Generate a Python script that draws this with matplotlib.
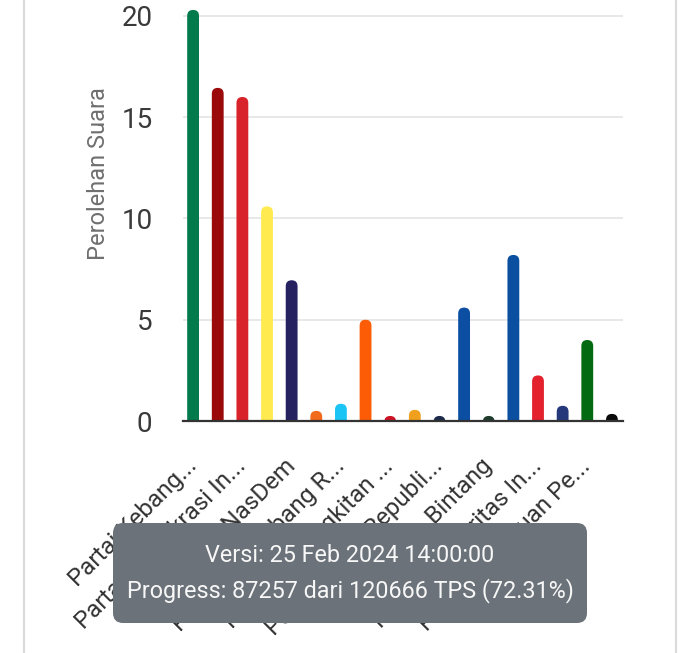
import matplotlib.pyplot as plt
import numpy as np
from matplotlib.lines import Line2D
from matplotlib.patches import FancyBboxPatch

plt.rcParams["font.family"] = ["Roboto", "DejaVu Sans"]

# Perolehan suara per partai (%), urut nomor partai
parties = [
    "Partai Kebang...",
    "Partai Gerakan In...",
    "Partai Demokrasi In...",
    "Partai Golongan Ka...",
    "Partai NasDem",
    "Partai Buruh",
    "Partai Gelombang R...",
    "Partai Keadilan Se...",
    "Partai Kebangkitan ...",
    "Partai Hati Nurani ...",
    "Partai Garda Republi...",
    "Partai Amanat Nasi...",
    "Partai Bulan Bintang",
    "Partai Demokrat",
    "Partai Solidaritas In...",
    "Partai Perindo",
    "Partai Persatuan Pe...",
    "Partai Ummat",
]
votes = [20.3, 16.45, 16.0, 10.6, 6.95, 0.5, 0.85, 5.0, 0.25,
         0.55, 0.25, 5.6, 0.25, 8.2, 2.25, 0.75, 4.0, 0.35]
colors = ["#027a4c", "#9b0a0a", "#d8232a", "#ffeb4f", "#26215f", "#f26a1b",
          "#1ac4f5", "#fc5c05", "#cc1424", "#f0a01c", "#1b2a4a", "#0b4ea2",
          "#1e3b2c", "#0a4fa0", "#e4222e", "#25397a", "#036a12", "#0a0a0a"]
yticks = [0, 5, 10, 15, 20]

version_text = "Versi: 25 Feb 2024 14:00:00"
progress_text = "Progress: 87257 dari 120666 TPS (72.31%)"

W, H = 700, 653
fig = plt.figure(figsize=(W / 100, H / 100), dpi=100)
fig.patch.set_facecolor("white")

ax_px = (183, 421, 440, 421)  # left, bottom-from-top, width, height
ax = fig.add_axes([ax_px[0] / W, 1 - ax_px[1] / H, ax_px[2] / W, ax_px[3] / H])

x = np.arange(len(votes))
xlim = (-0.41, len(votes) - 1 + 0.45)
ylim = (0, 20.79)
ax.set_xlim(*xlim)
ax.set_ylim(*ylim)

# bars with rounded tops
bar_w = 0.48
aspect = ((ylim[1] - ylim[0]) / ax_px[3]) / ((xlim[1] - xlim[0]) / ax_px[2])
for xi, v, c in zip(x, votes, colors):
    bottom = -bar_w * aspect
    ax.add_patch(FancyBboxPatch(
        (xi - bar_w / 2, bottom), bar_w, v - bottom,
        boxstyle=f"round,pad=0,rounding_size={bar_w / 2}",
        mutation_aspect=aspect, facecolor=c, edgecolor="none", zorder=2))

ax.set_yticks(yticks)
ax.yaxis.grid(True, color="#e2e2e2", linewidth=1.1)
ax.set_axisbelow(True)
for side in ["top", "right", "left"]:
    ax.spines[side].set_visible(False)
ax.spines["bottom"].set_color("#333333")
ax.spines["bottom"].set_linewidth(1.6)
ax.spines["bottom"].set_zorder(3)

ax.tick_params(axis="y", length=0, pad=22, labelsize=20, labelcolor="#3a3a3a")
ax.tick_params(axis="x", length=0, pad=30, labelsize=17.5, labelcolor="#333333")
ax.set_xticks(x[::2])
ax.set_xticklabels(parties[::2], rotation=45, ha="right", va="center",
                   rotation_mode="anchor")

ax.set_ylabel("Perolehan Suara", fontsize=17, color="#6f6f6f")
ax.yaxis.set_label_coords((110 - ax_px[0]) / ax_px[2], (421 - 174) / ax_px[3])

# side borders of the card
for bx in (24, 676):
    fig.add_artist(Line2D([bx / W, bx / W], [0, 1], transform=fig.transFigure,
                          color="#dadada", linewidth=1.5))

# toast overlay
tx0, ty0, tx1, ty1 = 113, 523, 587, 623
fig.add_artist(FancyBboxPatch(
    (tx0 / W, 1 - ty1 / H), (tx1 - tx0) / W, (ty1 - ty0) / H,
    boxstyle=f"round,pad=0,rounding_size={10 / W}", mutation_aspect=W / H,
    transform=fig.transFigure, facecolor="#6b7279", edgecolor="none", zorder=5))
fig.text(350 / W, 1 - 555 / H, version_text, ha="center", va="center",
         color="#f7f7f7", fontsize=16.8, zorder=6)
fig.text(350 / W, 1 - 591 / H, progress_text, ha="center", va="center",
         color="#f7f7f7", fontsize=16.8, zorder=6)

fig.savefig("out.png", dpi=100, facecolor="white")
